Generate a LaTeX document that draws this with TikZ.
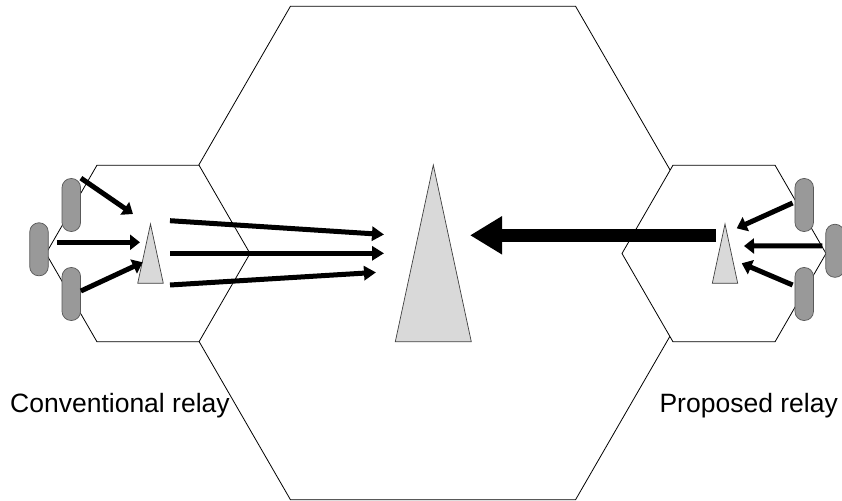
\documentclass[tikz,border=0pt]{standalone}
\usepackage{fontspec}
\setmainfont{Liberation Sans}
\usetikzlibrary{arrows.meta,shapes.geometric,positioning}

\begin{document}
\begin{tikzpicture}[x=1bp, y=-1bp,
cell/.style={
		regular polygon,
		regular polygon sides=6,
		draw=black,
		line width=0.8bp,
		fill=white,
		inner sep=0pt,
		},
ue/.style={
		draw=black!65,
		fill=black!40,
		line width=0.7bp,
		rounded corners=9bp,
		minimum width=18.5bp,
		minimum height=53bp,
		inner sep=0pt,
		},
antenna/.style={
		draw=black!75,
		fill=black!15,
		line width=0.7bp,
		},
access/.style={
		line width=5bp,
		-{Triangle[length=10bp,width=15bp]},
		},
backhaul/.style={
		line width=5bp,
		-{Triangle[length=12bp,width=14bp]},
		},
relaytext/.style={
		font=\fontsize{26.5bp}{30bp}\selectfont,
		inner sep=0pt,
		}
]

\useasboundingbox (0,0) rectangle (842,501);

\def \R {285bp}
\def \r {102bp}
\def \texty {406}

% cells: the macro cell and the two relay cells
\node[cell, minimum size=2*\R] (macro) at (433,253) {};
\node[cell, minimum size=2*\r] (cellA) at (148,253.5) {};
\node[cell, minimum size=2*\r] (cellB) at (724,253.5) {};

% base station and relays
\foreach \x/\ya/\yb/\w in {433.3/165/341.7/38, 150.5/224/283.3/12.8, 725/224/283.3/12.7}
  \draw[antenna] (\x,\ya) -- (\x+\w,\yb) -- (\x-\w,\yb) -- cycle;

% users
\node[ue] (ue1) at (71.3,205) {};
\node[ue] (ue2) at (39,249.3) {};
\node[ue] (ue3) at (71.3,294) {};
\node[ue] (ue4) at (804.2,205) {};
\node[ue] (ue5) at (835,250.8) {};
\node[ue] (ue6) at (804.2,294) {};

% conventional relay: every user on its own link
\coordinate (a1) at (133,214);
\coordinate (a2) at (140,242.3);
\coordinate (a3) at (142.7,262.3);
\draw[access] (ue1.north east) -- (a1);
\draw[access] ([shift={(8,-7)}]ue2.east) -- (a2);
\draw[access] ([shift={(0,-3)}]ue3.east) -- (a3);

\foreach \ys/\xe/\ye [count=\i] in {220.7/384/234.5, 253.3/384/253.3, 285/376/272.4}
{
  \coordinate (s\i) at (170,\ys);
  \coordinate (e\i) at (\xe,\ye);
  \draw[backhaul] (s\i) -- (e\i);
}

% proposed relay: one combined link
\coordinate (b1) at (736.7,228.3);
\coordinate (b2) at (744,246);
\coordinate (b3) at (741.7,263.3);
\draw[access] ([shift={(-2,-2)}]ue4.west) -- (b1);
\draw[access] ([shift={(-3,-5)}]ue5.west) -- (b2);
\draw[access] ([shift={(-2,-9)}]ue6.west) -- (b3);

\coordinate (relayB) at (716,235.3);
\coordinate (bsin) at (470,235.3);
\draw[line width=12.7bp, -{Triangle[length=32bp,width=36bp]}] (relayB) -- (bsin);

\node[relaytext, anchor=west] (convlabel) at (10,\texty) {Conventional relay};
\node[relaytext, anchor=east] (proplabel) at (838,\texty) {Proposed relay};
\end{tikzpicture}
\end{document}
